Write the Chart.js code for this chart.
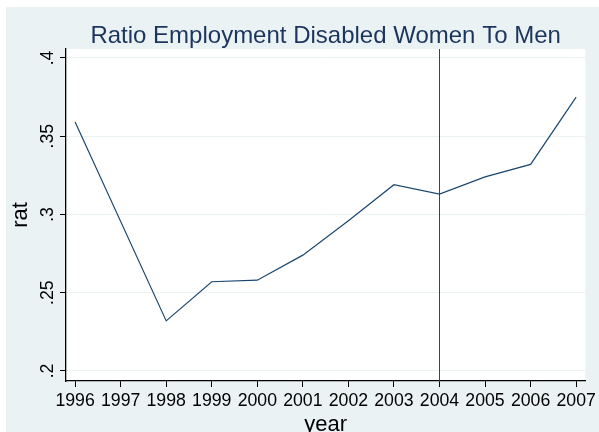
<!DOCTYPE html>
<html>
<head>
<meta charset="utf-8">
<script src="https://cdn.jsdelivr.net/npm/chart.js@4/dist/chart.umd.min.js"></script>
<style>
  html, body { margin: 0; padding: 0; background: #ffffff; }
  #wrap { width: 599px; height: 432px; }
</style>
</head>
<body>
<div id="wrap"><canvas id="c" width="599" height="432"></canvas></div>
<script>
// Employment ratio, disabled women to disabled men, by survey year
const years = [1996, 1997, 1998, 1999, 2000, 2001, 2002, 2003, 2004, 2005, 2006, 2007];
const ratio = [0.359, null, 0.232, 0.257, 0.258, 0.274, 0.296, 0.319, 0.313, 0.324, 0.332, 0.375];

const yTicks = [0.2, 0.25, 0.3, 0.35, 0.4];
const yTickLabels = ['.2', '.25', '.3', '.35', '.4'];

const markerYear = 2004;

const chartTitle = 'Ratio Employment Disabled Women To Men';
const xTitle = 'year';
const yTitle = 'rat';

const FONT = '"Liberation Sans", Arial, Helvetica, sans-serif';
const REGION_BG = '#eaf2f3';

// Outer graph region and white plot region
const backdrop = {
  id: 'backdrop',
  beforeDraw(chart) {
    const { ctx, chartArea: a } = chart;
    ctx.save();
    ctx.fillStyle = '#ffffff';
    ctx.fillRect(0, 0, chart.width, chart.height);
    ctx.fillStyle = REGION_BG;
    ctx.fillRect(6, 7, chart.width - 6, chart.height - 7);
    ctx.fillStyle = '#ffffff';
    ctx.fillRect(a.left, a.top, a.right - a.left, a.bottom - a.top);
    ctx.restore();
  }
};

// Vertical reference line at the marker year
const markerLine = {
  id: 'markerLine',
  afterDatasetsDraw(chart) {
    const { ctx, chartArea: a, scales: { x } } = chart;
    const px = Math.round(x.getPixelForValue(markerYear)) + 0.5;
    ctx.save();
    ctx.strokeStyle = '#a0163a';
    ctx.lineWidth = 1;
    ctx.beginPath();
    ctx.moveTo(px, a.top);
    ctx.lineTo(px, a.bottom);
    ctx.stroke();
    ctx.restore();
  }
};

// Title, axis titles and rotated y tick labels
const labels = {
  id: 'labels',
  afterDraw(chart) {
    const { ctx, chartArea: a, scales: { y } } = chart;
    const cx = (a.left + a.right) / 2;
    const cy = (a.top + a.bottom) / 2;
    ctx.save();
    ctx.textAlign = 'center';
    ctx.textBaseline = 'alphabetic';

    ctx.fillStyle = '#1c355e';
    ctx.font = '24px ' + FONT;
    ctx.fillText(chartTitle, cx, 42.5);

    ctx.fillStyle = '#000000';
    ctx.font = '22px ' + FONT;
    ctx.fillText(xTitle, cx, 430.5);

    ctx.save();
    ctx.translate(26.5, cy);
    ctx.rotate(-Math.PI / 2);
    ctx.fillText(yTitle, 0, 0);
    ctx.restore();

    ctx.font = '17.7px ' + FONT;
    yTicks.forEach((v, i) => {
      const py = y.getPixelForValue(v);
      ctx.save();
      ctx.translate(52.5, py);
      ctx.rotate(-Math.PI / 2);
      ctx.fillText(yTickLabels[i], 0, 0);
      ctx.restore();
    });
    ctx.restore();
  }
};

new Chart(document.getElementById('c'), {
  type: 'line',
  data: {
    datasets: [{
      label: yTitle,
      data: years.map((yr, i) => ({ x: yr, y: ratio[i] })),
      borderColor: '#1a476f',
      borderWidth: 1.2,
      pointRadius: 0,
      tension: 0,
      spanGaps: true,
      fill: false
    }]
  },
  options: {
    responsive: false,
    animation: false,
    devicePixelRatio: 1,
    layout: { padding: { top: 49, right: 11, left: 0, bottom: 0 } },
    plugins: {
      legend: { display: false },
      title: { display: false },
      tooltip: { enabled: false }
    },
    scales: {
      x: {
        type: 'linear',
        min: 1995.8,
        max: 2007.2,
        afterBuildTicks(s) { s.ticks = years.map(v => ({ value: v })); },
        afterFit(s) { s.height = 51; },
        ticks: {
          color: '#000000',
          font: { family: FONT, size: 17.7 },
          padding: 3,
          autoSkip: false,
          maxRotation: 0,
          minRotation: 0,
          callback: v => String(v)
        },
        grid: { drawOnChartArea: false, tickLength: 6, tickColor: '#000000', tickWidth: 1 },
        border: { color: '#000000', width: 1.3 }
      },
      y: {
        type: 'linear',
        min: 0.1936,
        max: 0.4057,
        afterBuildTicks(s) { s.ticks = yTicks.map(v => ({ value: v })); },
        afterFit(s) { s.width = 66; },
        ticks: { color: 'rgba(0,0,0,0)', font: { family: FONT, size: 17.7 } },
        grid: { color: REGION_BG, lineWidth: 1, tickLength: 6, tickColor: '#000000', tickWidth: 1 },
        border: { color: '#000000', width: 1.3 }
      }
    }
  },
  plugins: [backdrop, markerLine, labels]
});
</script>
</body>
</html>
